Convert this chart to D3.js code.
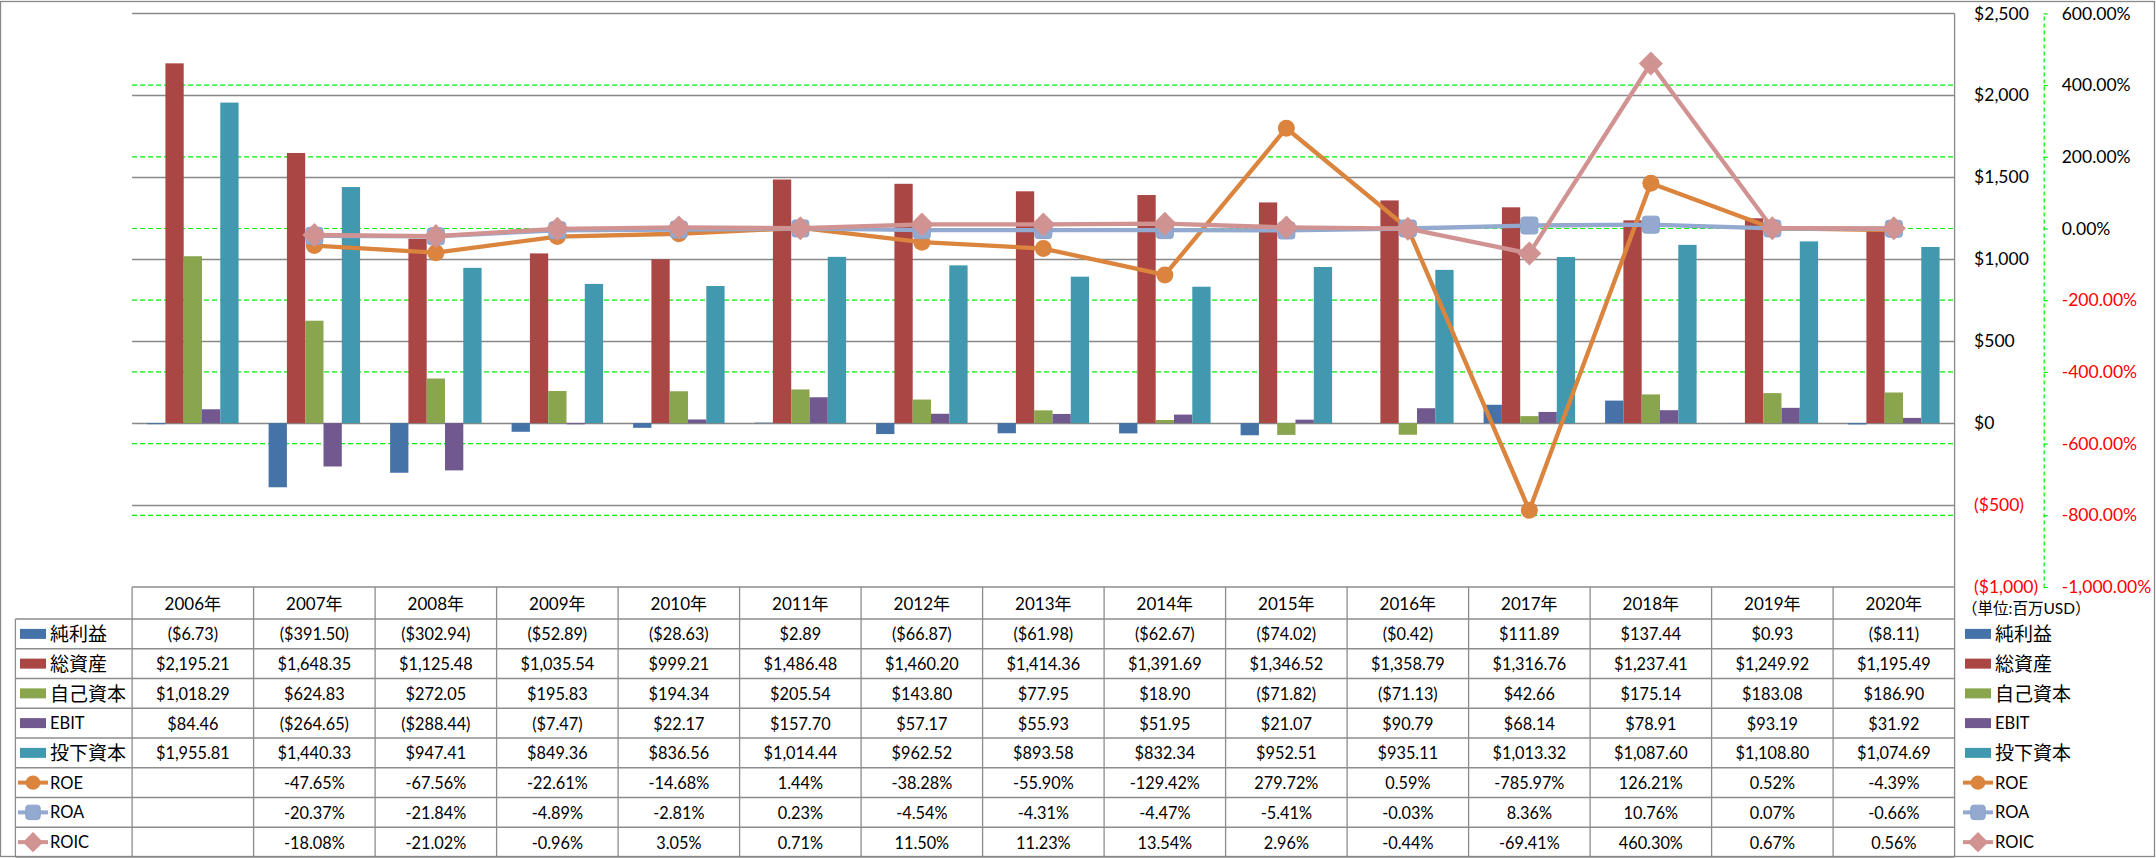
<!DOCTYPE html>
<html><head><meta charset="utf-8">
<script src="https://cdn.jsdelivr.net/npm/d3@7"></script>
<style>
body{margin:0;background:#fff}
svg{display:block}
text{font-family:Lato,'Noto Sans CJK JP',sans-serif;fill:#000}
</style>
</head><body>
<svg id="c" width="2156" height="858"></svg>
<script>
// ---------- data ----------
const categories = ["2006年","2007年","2008年","2009年","2010年","2011年","2012年","2013年","2014年","2015年","2016年","2017年","2018年","2019年","2020年"];
const netIncome = [-6.73,-391.50,-302.94,-52.89,-28.63,2.89,-66.87,-61.98,-62.67,-74.02,-0.42,111.89,137.44,0.93,-8.11];
const totalAssets = [2195.21,1648.35,1125.48,1035.54,999.21,1486.48,1460.20,1414.36,1391.69,1346.52,1358.79,1316.76,1237.41,1249.92,1195.49];
const equity = [1018.29,624.83,272.05,195.83,194.34,205.54,143.80,77.95,18.90,-71.82,-71.13,42.66,175.14,183.08,186.90];
const ebit = [84.46,-264.65,-288.44,-7.47,22.17,157.70,57.17,55.93,51.95,21.07,90.79,68.14,78.91,93.19,31.92];
const investedCapital = [1955.81,1440.33,947.41,849.36,836.56,1014.44,962.52,893.58,832.34,952.51,935.11,1013.32,1087.60,1108.80,1074.69];
const roe = [null,-47.65,-67.56,-22.61,-14.68,1.44,-38.28,-55.90,-129.42,279.72,0.59,-785.97,126.21,0.52,-4.39];
const roa = [null,-20.37,-21.84,-4.89,-2.81,0.23,-4.54,-4.31,-4.47,-5.41,-0.03,8.36,10.76,0.07,-0.66];
const roic = [null,-18.08,-21.02,-0.96,3.05,0.71,11.50,11.23,13.54,2.96,-0.44,-69.41,460.30,0.67,0.56];

const barNames = ["純利益","総資産","自己資本","EBIT","投下資本"];
const barValues = [netIncome,totalAssets,equity,ebit,investedCapital];
const barColors = ["#4572A7","#AA4643","#89A54E","#71588F","#4198AF"];
const lineNames = ["ROE","ROA","ROIC"];
const lineValues = [roe,roa,roic];
const lineColors = ["#DB843D","#93A9CF","#D19392"];
const lineMarkers = ["circle","square","diamond"];

const dollarTicks = [2500,2000,1500,1000,500,0,-500,-1000];
const pctTicks = [600,400,200,0,-200,-400,-600,-800,-1000];
const unitLabel = "（単位:百万USD）";

// ---------- layout ----------
const W = 2156, H = 858;
const plotL = 132.1, plotR = 1954.6, plotT = 13.4, plotB = 587;
const tableTop = 587, headerH = 32, rowH = 29.75;
const gridGrey = "#888888", green = "#00ee00", tableLine = "#8c8c8c";

const svg = d3.select("#c");
svg.append("rect").attr("width",W).attr("height",H).attr("fill","#fff");

const x0 = d3.scaleBand().domain(categories).range([plotL, plotR]);
const x1 = d3.scaleBand().domain(barNames).range([0, x0.bandwidth()]).paddingOuter(0.82);
const yL = d3.scaleLinear().domain([-1000,2500]).range([plotB, plotT]);
const yR = d3.scaleLinear().domain([-1000,600]).range([plotB, plotT]);

// green dashed gridlines (secondary)
svg.append("g").selectAll("line").data(pctTicks.filter(d=>d<600 && d>-1000)).join("line")
  .attr("x1",plotL).attr("x2",plotR).attr("y1",d=>yR(d)).attr("y2",d=>yR(d))
  .attr("stroke",green).attr("stroke-width",1.2).attr("stroke-dasharray","5,3");

// grey gridlines (primary)
svg.append("g").selectAll("line").data(dollarTicks.filter(d=>d>-1000)).join("line")
  .attr("x1",plotL).attr("x2",plotR).attr("y1",d=>Math.round(yL(d))+0.5).attr("y2",d=>Math.round(yL(d))+0.5)
  .attr("stroke",gridGrey).attr("stroke-width",1.3);

// bars
barNames.forEach((name,i)=>{
  svg.append("g").selectAll("rect").data(barValues[i].map((v,j)=>({c:categories[j],v}))).join("rect")
    .attr("x",d=>x0(d.c)+x1(name))
    .attr("width",x1.bandwidth())
    .attr("y",d=>Math.min(yL(d.v),yL(0)))
    .attr("height",d=>Math.abs(yL(d.v)-yL(0)))
    .attr("fill",barColors[i]);
});

// plot right border
svg.append("line").attr("x1",plotR).attr("x2",plotR).attr("y1",plotT).attr("y2",857)
  .attr("stroke",gridGrey).attr("stroke-width",1.3);

// markers
function drawMarker(g, type, color, cx, cy, scale){
  if(type==="circle"){
    g.append("circle").attr("cx",cx).attr("cy",cy).attr("r",8.5*scale).attr("fill",color);
  } else if(type==="square"){
    const s=17*scale;
    g.append("rect").attr("x",cx-s/2).attr("y",cy-s/2).attr("width",s).attr("height",s).attr("rx",3).attr("fill",color)
      .attr("stroke","#8aa3cc").attr("stroke-width",1);
  } else {
    g.append("path").attr("d",d3.symbol(d3.symbolDiamond2, 367*scale*scale)()).attr("transform",`translate(${cx},${cy})`).attr("fill",color);
  }
}

// lines
const cx = c => x0(c)+x0.bandwidth()/2;
lineNames.forEach((name,i)=>{
  const pts = lineValues[i].map((v,j)=>({c:categories[j],v}));
  const line = d3.line().defined(d=>d.v!=null).x(d=>cx(d.c)).y(d=>yR(d.v));
  const g = svg.append("g");
  g.append("path").attr("d",line(pts)).attr("fill","none").attr("stroke",lineColors[i])
    .attr("stroke-width",4.3).attr("stroke-linejoin","round");
  pts.filter(d=>d.v!=null).forEach(d=>drawMarker(g,lineMarkers[i],lineColors[i],cx(d.c),yR(d.v),1));
});

// axes
const fmtAxisDollar = v => v<0 ? "($"+d3.format(",")(-v)+")" : "$"+d3.format(",")(v);
const fmtAxisPct = v => d3.format(",.2f")(v).replace("−","-")+"%";

const axL = svg.append("g").attr("transform",`translate(${plotR},0)`)
  .call(d3.axisRight(yL).tickValues(dollarTicks).tickSize(0).tickPadding(19.5).tickFormat(fmtAxisDollar));
axL.select(".domain").remove();
axL.selectAll("text").attr("font-size",17.5).attr("font-family","Lato")
  .attr("fill",d=>d<0?"#ff0000":"#000").style("fill",d=>d<0?"#ff0000":"#000");

const axR = svg.append("g").attr("transform",`translate(2043.7,0)`)
  .call(d3.axisRight(yR).tickValues(pctTicks).tickSize(4).tickSizeOuter(0).tickPadding(14).tickFormat(fmtAxisPct));
axR.select(".domain").attr("stroke",green).attr("stroke-dasharray","4,3").attr("stroke-width",1.2);
axR.selectAll(".tick line").attr("stroke",green).attr("stroke-width",1.2);
axR.selectAll("text").attr("font-size",17.5).attr("font-family","Lato")
  .attr("fill",d=>d<0?"#ff0000":"#000").style("fill",d=>d<0?"#ff0000":"#000");

// ---------- data table ----------
const rowsY = d3.range(9).map(k=>tableTop+headerH+k*rowH);
const tg = svg.append("g");
tg.append("line").attr("x1",plotL).attr("x2",plotR).attr("y1",tableTop).attr("y2",tableTop)
  .attr("stroke",tableLine).attr("stroke-width",1.3);
tg.selectAll("line.row").data(rowsY).join("line").attr("class","row")
  .attr("x1",15.4).attr("x2",plotR).attr("y1",d=>d).attr("y2",d=>d)
  .attr("stroke",tableLine).attr("stroke-width",1.3);
tg.selectAll("line.col").data(categories).join("line").attr("class","col")
  .attr("x1",d=>x0(d)).attr("x2",d=>x0(d)).attr("y1",tableTop).attr("y2",857)
  .attr("stroke",tableLine).attr("stroke-width",1.3);
tg.append("line").attr("x1",15.4).attr("x2",15.4).attr("y1",rowsY[0]).attr("y2",857)
  .attr("stroke",tableLine).attr("stroke-width",1.3);

// header
tg.selectAll("text.hdr").data(categories).join("text").attr("class","hdr")
  .attr("x",d=>cx(d)).attr("y",tableTop+headerH/2).attr("text-anchor","middle")
  .attr("dominant-baseline","central").attr("font-size",17).text(d=>d);

const fmtMoney = v => v<0 ? "($"+d3.format(",.2f")(-v)+")" : "$"+d3.format(",.2f")(v);
const fmtPct = v => v==null ? "" : d3.format(",.2f")(v).replace("−","-")+"%";

const allRows = barNames.map((n,i)=>({name:n, values:barValues[i], fmt:fmtMoney, color:barColors[i], type:"bar"}))
  .concat(lineNames.map((n,i)=>({name:n, values:lineValues[i], fmt:fmtPct, color:lineColors[i], type:lineMarkers[i]})));

allRows.forEach((r,ri)=>{
  const yc = rowsY[ri]+rowH/2;
  tg.append("g").selectAll("text").data(r.values.map((v,j)=>({c:categories[j],v}))).join("text")
    .attr("x",d=>cx(d.c)).attr("y",yc).attr("text-anchor","middle").attr("dominant-baseline","central")
    .attr("font-size",16.3).text(d=>d.v==null?"":r.fmt(d.v));
});

// legends (in table and on right)
function legendItem(x, yc, r){
  const g = svg.append("g");
  if(r.type==="bar"){
    g.append("rect").attr("x",x+2).attr("y",yc-5).attr("width",26).attr("height",10).attr("fill",r.color);
  } else {
    g.append("line").attr("x1",x).attr("x2",x+30).attr("y1",yc).attr("y2",yc)
      .attr("stroke",r.color).attr("stroke-width",4);
    drawMarker(g,r.type,r.color,x+15,yc,0.85);
  }
  const cjk = /[^\x00-\x7F]/.test(r.name);
  g.append("text").attr("x",x+32).attr("y",yc).attr("dominant-baseline","central")
    .attr("font-size",cjk?19:16.5).text(r.name);
}
allRows.forEach((r,ri)=>{
  const yc = rowsY[ri]+rowH/2;
  legendItem(18, yc, r);
  legendItem(1963, yc, r);
});
svg.append("text").attr("x",1962).attr("y",608).attr("dominant-baseline","central")
  .attr("font-size",15.5).attr("font-family","'Noto Sans CJK JP'").text(unitLabel);

// outer border
svg.append("rect").attr("x",0.5).attr("y",1.5).attr("width",2154).attr("height",855)
  .attr("fill","none").attr("stroke","#888").attr("stroke-width",1.3);
</script>
</body></html>
